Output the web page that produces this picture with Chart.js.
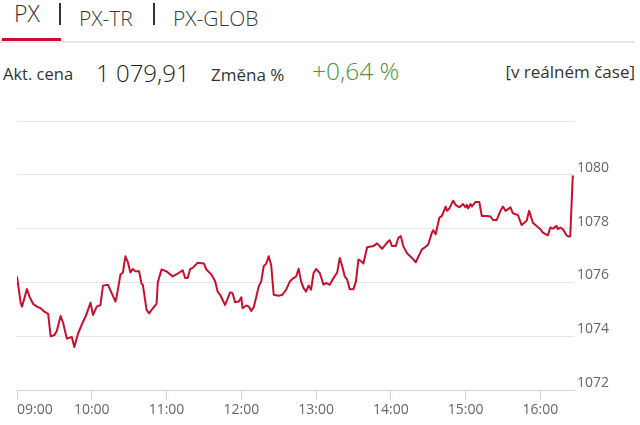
<!DOCTYPE html>
<html>
<head>
<meta charset="utf-8">
<script src="https://cdn.jsdelivr.net/npm/chart.js@4/dist/chart.umd.min.js"></script>
<style>
  html, body { margin: 0; padding: 0; background: #fff; }
  body { width: 640px; height: 425px; position: relative; overflow: hidden; font-family: 'Open Sans', sans-serif; }
  .t { position: absolute; white-space: nowrap; line-height: 1; }
  .lt { font-weight: 300; }
  .sep { position: absolute; top: 3px; width: 2px; height: 22px; background: #333; }
  #chartBox { position: absolute; left: 0; top: 100px; width: 640px; height: 325px; }
</style>
</head>
<body>
  <span class="t lt" style="left:14px; top:1.5px; font-size:23px; color:#333;">PX</span>
  <div class="sep" style="left:59px;"></div>
  <span class="t lt" style="left:79px; top:7.5px; font-size:21px; color:#3a3a3a;">PX-TR</span>
  <div class="sep" style="left:153px;"></div>
  <span class="t lt" style="left:173px; top:7.5px; font-size:21px; color:#3a3a3a;">PX-GLOB</span>
  <div style="position:absolute; left:0; top:41px; width:635px; height:2px; background:#e8e8e8;"></div>
  <div style="position:absolute; left:2px; top:37.5px; width:59px; height:3.5px; background:#c8102e;"></div>

  <span class="t" style="left:3px; top:66px; font-size:16.5px; color:#333;">Akt. cena</span>
  <span class="t lt" style="left:96px; top:60.5px; font-size:24px; color:#222;">1 079,91</span>
  <span class="t" style="left:211px; top:66px; font-size:17px; color:#333;">Změna %</span>
  <span class="t lt" style="left:312px; top:58.5px; font-size:24.5px; color:#4f8f47;">+0,64 %</span>
  <span class="t" style="right:5px; top:63px; font-size:17px; color:#333;">[v reálném čase]</span>

  <div id="chartBox"><canvas id="px"></canvas></div>

<script>
// intraday PX index, 09:00 - 16:27
const times = [
  '09:00','09:03','09:04','09:08','09:10','09:13','09:16','09:19','09:22','09:25','09:27','09:30','09:32','09:35','09:37','09:40','09:44','09:46','09:49','09:53','09:55','09:59',
  '10:01','10:04','10:07','10:09','10:13','10:16','10:19','10:20','10:23','10:25','10:27','10:29','10:31','10:33','10:35','10:38','10:40','10:41','10:44','10:46','10:49','10:52','10:53','10:56',
  '11:00','11:05','11:09','11:13','11:15','11:17','11:19','11:21','11:25','11:30','11:32','11:36','11:39','11:41','11:43','11:47','11:51','11:53','11:55','11:58',
  '12:00','12:01','12:04','12:06','12:08','12:10','12:14','12:16','12:18','12:20','12:22','12:24','12:26','12:30','12:33','12:36','12:39','12:42','12:44','12:46','12:48','12:50','12:52','12:54','12:56','12:58',
  '13:00','13:03','13:06','13:08','13:11','13:14','13:17','13:19','13:21','13:23','13:25','13:27','13:30','13:32','13:34','13:36','13:38','13:41','13:46','13:49','13:53','13:57','13:59',
  '14:01','14:04','14:06','14:08','14:10','14:13','14:17','14:20','14:23','14:25','14:27','14:30','14:33','14:34','14:36','14:39','14:41','14:44','14:45','14:47','14:50','14:52','14:55','14:58',
  '15:00','15:01','15:02','15:04','15:05','15:08','15:11','15:13','15:17','15:20','15:22','15:25','15:28','15:30','15:32','15:36','15:38','15:42','15:45','15:49','15:51','15:54','15:57',
  '16:00','16:02','16:06','16:08','16:10','16:13','16:14','16:16','16:18','16:21','16:23','16:24','16:26','16:27'
];
const values = [
  1076.22,1075.23,1075.10,1075.75,1075.47,1075.20,1075.10,1075.04,1074.91,1074.83,1074.00,1074.04,1074.20,1074.75,1074.50,1073.91,1073.97,1073.60,1074.10,1074.54,1074.72,1075.25,
  1074.79,1075.10,1075.16,1075.88,1075.91,1075.60,1075.29,1075.47,1076.29,1076.37,1076.97,1076.75,1076.37,1076.50,1076.41,1076.41,1075.94,1075.91,1074.98,1074.85,1075.04,1075.20,1076.00,1076.48,
  1076.41,1076.22,1076.33,1076.45,1076.16,1076.16,1076.50,1076.54,1076.73,1076.70,1076.48,1076.29,1076.04,1075.66,1075.54,1075.16,1075.63,1075.60,1075.26,1075.29,
  1075.45,1075.04,1075.14,1075.10,1074.94,1075.08,1075.85,1076.04,1076.60,1076.70,1076.97,1076.64,1075.54,1075.50,1075.54,1075.73,1076.04,1076.16,1076.22,1076.51,1076.04,1075.79,1075.66,1075.88,1075.73,1076.35,
  1076.50,1076.35,1075.91,1075.98,1075.91,1076.16,1076.37,1076.91,1076.60,1076.22,1076.10,1075.75,1075.75,1076.04,1076.85,1076.79,1076.70,1077.31,1077.35,1077.45,1077.25,1077.48,1077.57,
  1077.35,1077.35,1077.66,1077.72,1077.35,1077.08,1076.91,1076.75,1077.04,1077.23,1077.29,1077.41,1077.85,1077.94,1077.79,1078.41,1078.47,1078.82,1078.66,1078.75,1079.04,1078.88,1078.79,1078.91,
  1078.79,1078.88,1078.75,1078.91,1078.82,1078.99,1078.99,1078.47,1078.47,1078.45,1078.32,1078.32,1078.66,1078.82,1078.66,1078.79,1078.57,1078.50,1078.13,1078.29,1078.66,1078.22,1078.10,
  1077.98,1077.85,1077.75,1078.04,1078.00,1078.10,1077.98,1078.04,1077.98,1077.75,1077.70,1077.72,1079.95,1079.91
];
const hourLabels = ['09:00','10:00','11:00','12:00','13:00','14:00','15:00','16:00'];
const yTicks = [1072, 1074, 1076, 1078, 1080];

const openMin = 9 * 60;
function toMinutes(t) {
  const p = t.split(':');
  return +p[0] * 60 + +p[1] - openMin;
}
const hourMins = hourLabels.map(toMinutes);
const lastMin = toMinutes(times[times.length - 1]);

const points = times.map((t, i) => ({ x: toMinutes(t), y: values[i] }));
const axisFont = { family: 'Open Sans', size: 14 };

const ctx = document.getElementById('px');
const pxChart = new Chart(ctx, {
  type: 'line',
  data: {
    datasets: [{
      data: points,
      borderColor: '#c8102e',
      borderWidth: 2,
      pointRadius: 0,
      tension: 0,
      fill: false,
      borderJoinStyle: 'round'
    }]
  },
  options: {
    responsive: true,
    maintainAspectRatio: false,
    animation: false,
    layout: { padding: { left: 17, top: 21, right: 0, bottom: 0 } },
    plugins: { legend: { display: false }, tooltip: { enabled: false } },
    scales: {
      x: {
        type: 'linear',
        min: 0,
        max: lastMin,
        // hour ticks + an empty end tick so 'inner' only pushes the 09:00 label inside
        afterBuildTicks: s => { s.ticks = hourMins.map(v => ({ value: v })).concat([{ value: lastMin }]); },
        afterFit: s => { s.height = 35; },
        ticks: {
          callback: (v, i) => hourLabels[i] || '',
          align: 'inner',
          color: '#666',
          font: axisFont,
          padding: 2,
          maxRotation: 0,
          autoSkip: false
        },
        grid: {
          drawOnChartArea: false,
          tickLength: 10,
          tickColor: c => c.tick && c.tick.value === lastMin ? 'rgba(0,0,0,0)' : '#ccd6eb'
        },
        border: { color: '#ccd6eb' }
      },
      y: {
        position: 'right',
        min: 1072,
        max: 1082,
        afterFit: s => { s.width = 66; },
        ticks: {
          stepSize: 2,
          callback: v => yTicks.includes(v) ? String(v) : '',
          labelOffset: -7,
          padding: 3,
          color: '#666',
          font: axisFont
        },
        grid: {
          drawTicks: false,
          color: c => c.tick && c.tick.value === 1072 ? 'rgba(0,0,0,0)' : '#e6e6e6'
        },
        border: { display: false }
      }
    }
  }
});
</script>
</body>
</html>
